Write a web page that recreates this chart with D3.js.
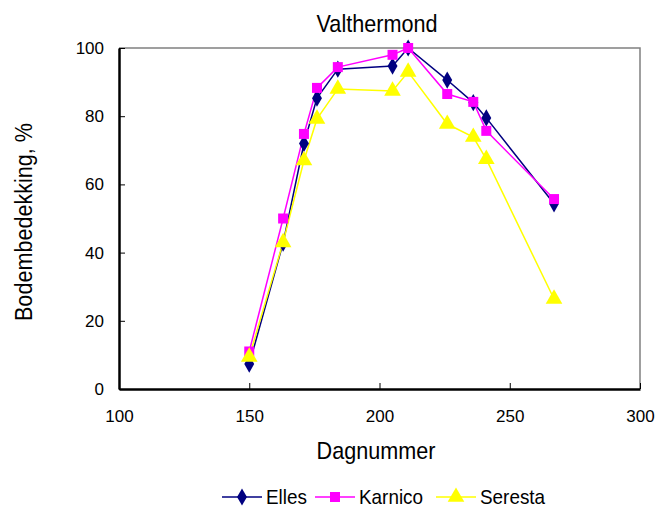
<!DOCTYPE html>
<html><head><meta charset="utf-8">
<script src="https://cdn.jsdelivr.net/npm/d3@7"></script>
<style>body{margin:0;background:#fff}svg{display:block}text{font-family:"Liberation Sans",Arial,sans-serif;fill:#000}</style>
</head><body><svg id="c" width="656" height="508"></svg>
<script>
const days = [150,163,171,176,184,205,211,226,236,241,267];
const elles = [7.3,42.8,72,85.3,93.8,94.7,100,90.6,84,79.5,54.3];
const karnico = [11,50,74.8,88.3,94.4,98,100,86.5,84.2,75.7,55.7];
const seresta = [9.4,43,67,79.2,88,87.4,93,77.7,73.9,67.4,26.4];
const xTicks = [100,150,200,250,300];
const yTicks = [0,20,40,60,80,100];
const seriesNames = ["Elles","Karnico","Seresta"];
const seriesColors = ["#000080","#ff00ff","#ffff00"];

const svg = d3.select("#c");
const L=119,R=640,T=48,B=389;
const x = d3.scaleLinear().domain([100,300]).range([L,R]);
const y = d3.scaleLinear().domain([0,100]).range([B,T]);

svg.append("path").attr("d",`M${L},${T}H${R}V${B}`).attr("fill","none").attr("stroke","#808080").attr("stroke-width",1.5);

const xa = svg.append("g").attr("transform",`translate(0,${B})`)
 .call(d3.axisBottom(x).tickValues(xTicks).tickSizeInner(-6).tickSizeOuter(0).tickPadding(21));
const ya = svg.append("g").attr("transform",`translate(${L},0)`)
 .call(d3.axisLeft(y).tickValues(yTicks).tickSizeInner(-6).tickSizeOuter(0).tickPadding(15));
[xa,ya].forEach(a=>{a.select(".domain").attr("stroke","#000").attr("stroke-width",2.5);
 a.selectAll(".tick line").attr("stroke","#000").attr("stroke-width",1);
 a.selectAll(".tick text").attr("font-size",17).attr("font-family",'"Liberation Sans",Arial,sans-serif');});

const data = [elles,karnico,seresta];
const shapes = [d3.symbolDiamond, d3.symbolSquare, d3.symbolTriangle];
const sizes = [85,100,120];
const line = d3.line().x((d,i)=>x(days[i])).y(d=>y(d));
data.forEach((s,k)=>{
  svg.append("path").datum(s).attr("d",line).attr("fill","none").attr("stroke",seriesColors[k]).attr("stroke-width",1.5);
});
data.forEach((s,k)=>{
  svg.append("g").selectAll("path").data(s).join("path")
   .attr("transform",(d,i)=>`translate(${x(days[i])},${y(d)})`)
   .attr("d",d3.symbol().type(shapes[k]).size(sizes[k])).attr("fill",seriesColors[k]);
});

function label(tx,ty,rot,txt){
  svg.append("text").attr("transform",`translate(${tx},${ty}) rotate(${rot}) scale(0.9,1)`)
   .attr("text-anchor","middle").attr("font-size",24).text(txt);
}
label(377,32,0,"Valthermond");
label(376,459,0,"Dagnummer");
label(32,222,-90,"Bodembedekking, %");

const legX = [222,315,436];
seriesNames.forEach((n,k)=>{
  const g = svg.append("g").attr("transform",`translate(${legX[k]},497)`);
  g.append("line").attr("x1",0).attr("x2",40).attr("stroke",seriesColors[k]).attr("stroke-width",1.5);
  g.append("path").attr("transform","translate(20,0)").attr("d",d3.symbol().type(shapes[k]).size(sizes[k])).attr("fill",seriesColors[k]);
  g.append("text").attr("transform","translate(44,7) scale(0.9,1)").attr("font-size",21).text(n);
});
</script></body></html>
